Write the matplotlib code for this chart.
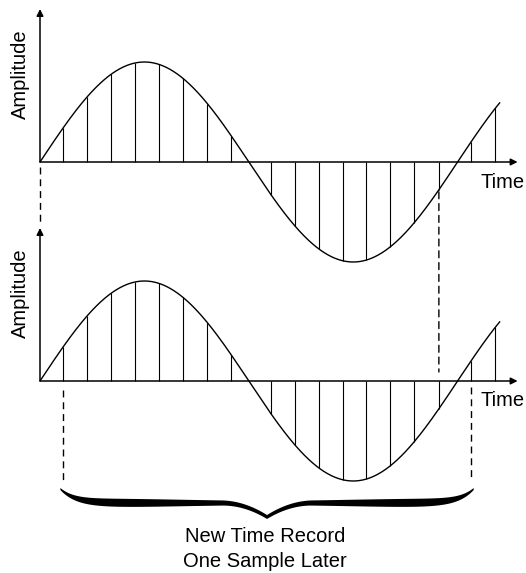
import numpy as np
import matplotlib.pyplot as plt
from matplotlib.patches import ConnectionPatch

# sine used for the illustration (time in sample-spacing units)
amplitude = 1.0
period = 17.4
t_end = 19.17

# sample instants
sample_t = [0.0, 0.97, 1.97, 2.96, 3.96, 4.96, 5.96, 6.97, 7.97,
            9.64, 10.64, 11.64, 12.64, 13.6, 14.6, 15.6, 16.62, 17.97, 18.97]

# first and last sample of each time record (indices into sample_t)
old_record = (0, 16)
new_record = (1, 17)

y_label = "Amplitude"
x_label = "Time"
caption = "New Time Record\nOne Sample Later"

FONT = ['Liberation Sans', 'DejaVu Sans']
FS = 14.5


def wave(t):
    return amplitude * np.sin(2 * np.pi * np.asarray(t) / period)


def draw_record(ax):
    t = np.linspace(0, t_end, 600)
    ax.plot(t, wave(t), color='black', lw=1.0, solid_capstyle='butt')
    st = np.array(sample_t)
    ax.vlines(st, 0, wave(st), color='black', lw=0.8)
    ax.annotate('', xy=(19.9, 0), xytext=(0, 0),
                arrowprops=dict(arrowstyle='-|>', lw=1.1, color='black',
                                mutation_scale=10, shrinkA=0, shrinkB=0))
    ax.annotate('', xy=(0, 1.53), xytext=(0, 0),
                arrowprops=dict(arrowstyle='-|>', lw=1.1, color='black',
                                mutation_scale=10, shrinkA=0, shrinkB=0))
    ax.text(-0.8, 0.88, y_label, rotation=90, ha='center', va='center',
            fontsize=FS, family=FONT)
    ax.text(18.36, -0.2, x_label, ha='left', va='center',
            fontsize=FS, family=FONT)
    ax.axis('off')


def brace(ax, t0, t1, y_tip):
    # curly brace under the new record, 1 px = 0.01 amplitude units
    tm = (t0 + t1) / 2
    u = np.linspace(0, 1, 300)
    drop = 14 * (1 - np.exp(-u / 0.07)) + 14 * np.clip((u - 0.78) / 0.22, 0, 1) ** 2
    full = 2 + 6 * (u / 0.3) * np.exp(1 - u / 0.3)
    yc = y_tip - 0.01 * drop
    half = 0.005 * full
    tl = t0 + u * (tm - t0)
    tr = t1 - u * (t1 - tm)
    for tt in (tl, tr):
        ax.fill(np.concatenate([tt, tt[::-1]]),
                np.concatenate([yc + half, (yc - half)[::-1]]),
                color='black', lw=0)


fig = plt.figure(figsize=(5.26, 5.73), dpi=100)
H = 573

# top record: pixel rows 0..290, axis at row 162
ax1 = fig.add_axes([0, 1 - 290 / H, 1, 290 / H])
ax1.set_xlim(-40 / 24, 486 / 24)
ax1.set_ylim(-1.28, 1.62)
# bottom record: pixel rows 220..573, axis at row 381
ax2 = fig.add_axes([0, 0, 1, 353 / H])
ax2.set_xlim(-40 / 24, 486 / 24)
ax2.set_ylim(-1.92, 1.61)
for ax in (ax1, ax2):
    ax.patch.set_alpha(0)

draw_record(ax1)
draw_record(ax2)

dash = dict(color='black', lw=1.0, linestyle=(0, (5, 3.5)), clip_on=False)

# old record start and end
ts = sample_t[old_record[0]]
te = sample_t[old_record[1]]
ax1.plot([ts, ts], [-0.05, -0.6], **dash)
y_top = float(wave(te))
con = ConnectionPatch(xyA=(te, y_top - 0.02), coordsA=ax1.transData,
                      xyB=(te, 0.09), coordsB=ax2.transData,
                      color='black', lw=1.0, linestyle=(0, (5, 3.5)))
fig.add_artist(con)

# new record start and end
ns = sample_t[new_record[0]]
ne = sample_t[new_record[1]]
ax2.plot([ns, ns], [-0.09, -0.99], **dash)
ax2.plot([ne, ne], [-0.06, -0.99], **dash)

brace(ax2, ns - 0.12, ne + 0.1, -1.08)
ax2.text((ns + ne) / 2 - 0.1, -1.68, caption, ha='center', va='center',
         fontsize=FS, family=FONT, linespacing=1.35)

fig.savefig('out.png', dpi=100)
